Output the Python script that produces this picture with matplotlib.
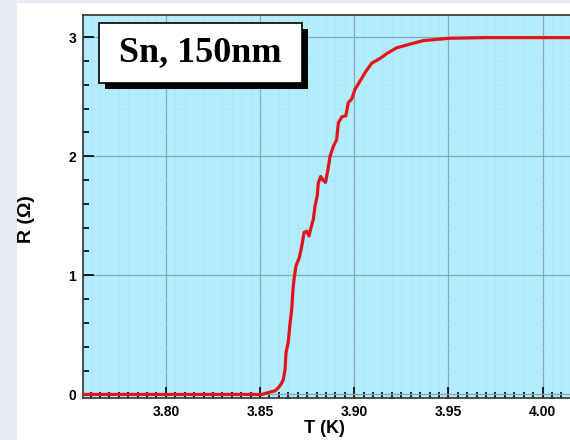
import numpy as np
import matplotlib
matplotlib.use("Agg")
import matplotlib.pyplot as plt
from matplotlib.patches import Rectangle
from matplotlib.ticker import MultipleLocator, FormatStrFormatter

# R(T) of the Sn film
temp_K = [3.756, 3.845, 3.851, 3.8553, 3.858, 3.8597, 3.8611, 3.8624, 3.8633, 3.8638,
          3.8650, 3.8659, 3.8668, 3.8675, 3.8680, 3.8691, 3.8709, 3.8721, 3.8734,
          3.8748, 3.8760, 3.8771, 3.8783, 3.8792, 3.8804, 3.8809, 3.8822, 3.8834,
          3.8848, 3.8861, 3.8872, 3.8889, 3.8907, 3.8916, 3.8934, 3.8956, 3.8969,
          3.8987, 3.9004, 3.9031, 3.9057, 3.9093, 3.9137, 3.9172, 3.9226, 3.9296,
          3.9367, 3.9438, 3.9508, 3.97, 4.0146]
res_ohm = [0.0, 0.0, 0.0, 0.02, 0.03, 0.056, 0.084, 0.126, 0.21, 0.35,
           0.44, 0.59, 0.71, 0.88, 0.96, 1.08, 1.15, 1.24, 1.36,
           1.37, 1.33, 1.40, 1.47, 1.58, 1.67, 1.77, 1.83, 1.80,
           1.78, 1.89, 2.00, 2.08, 2.14, 2.28, 2.33, 2.34, 2.45,
           2.48, 2.56, 2.63, 2.70, 2.78, 2.82, 2.86, 2.91, 2.94,
           2.97, 2.98, 2.99, 2.995, 2.995]
x_ticks = [3.80, 3.85, 3.90, 3.95, 4.00]
y_ticks = [0, 1, 2, 3]
label_text = "Sn, 150nm"

W, H = 570, 440
fig = plt.figure(figsize=(W / 100, H / 100), dpi=100)
fig.patch.set_facecolor("#e6eaf4")
# white slide panel
fig.patches.append(Rectangle((17 / W, 0), 1, 1 - 3 / H, transform=fig.transFigure,
                             facecolor="white", edgecolor="none", zorder=-5))

ax = fig.add_axes([83 / W, 1 - 398 / H, 1 - 83 / W, (398 - 15) / H])
ax.set_zorder(1)
ax.set_facecolor("#b3ecfb")
ax.plot(temp_K, res_ohm, color="#e3121b", lw=2.3, zorder=3)

ax.set_xlim(3.756, 4.0146)
ax.set_ylim(-0.03, 3.185)
ax.set_xticks(x_ticks)
ax.set_yticks(y_ticks)
ax.xaxis.set_major_formatter(FormatStrFormatter("%.2f"))
ax.xaxis.set_minor_locator(MultipleLocator(0.005))
ax.yaxis.set_minor_locator(MultipleLocator(0.2))

ax.grid(which="major", color="#86a8b5", lw=0.9, zorder=1)
ax.grid(which="minor", color="#a9e2f2", lw=0.4, zorder=1)
ax.set_axisbelow(True)

ax.spines["right"].set_visible(False)
for s in ["left", "bottom", "top"]:
    ax.spines[s].set_color("#333333")
    ax.spines[s].set_linewidth(1.2)

ax.tick_params(axis="both", which="major", direction="in", length=8, width=1.2,
               labelsize=10, pad=5)
ax.tick_params(axis="both", which="minor", direction="in", length=4, width=1.2)
ax.tick_params(axis="x", which="both", top=False)
for t in ax.get_xticklabels() + ax.get_yticklabels():
    t.set_fontweight("bold")
    t.set_fontfamily("Liberation Sans")

ax.set_xlabel("T (K)", fontsize=13, fontweight="bold", family="Liberation Sans")
ax.set_ylabel("R (\u03a9)", fontsize=14, fontweight="bold", family="Liberation Sans")
ax.xaxis.set_label_coords(0.495, -0.057)
ax.yaxis.set_label_coords(-0.099, 0.468)

# label box with drop shadow
bx, by, bw, bh = 99, 23, 203, 60
fig.patches.append(Rectangle(((bx + 6) / W, 1 - (by + bh + 6) / H), bw / W, bh / H,
                             transform=fig.transFigure, facecolor="black",
                             edgecolor="none", zorder=5))
fig.patches.append(Rectangle((bx / W, 1 - (by + bh) / H), bw / W, bh / H,
                             transform=fig.transFigure, facecolor="white",
                             edgecolor="black", lw=1.2, zorder=6))
fig.text((bx + bw / 2) / W, 1 - (by + bh / 2) / H, label_text, ha="center", va="center",
         fontsize=26, fontweight="bold", family="Liberation Serif", zorder=7)

fig.savefig("out.png", dpi=100, facecolor=fig.get_facecolor())
